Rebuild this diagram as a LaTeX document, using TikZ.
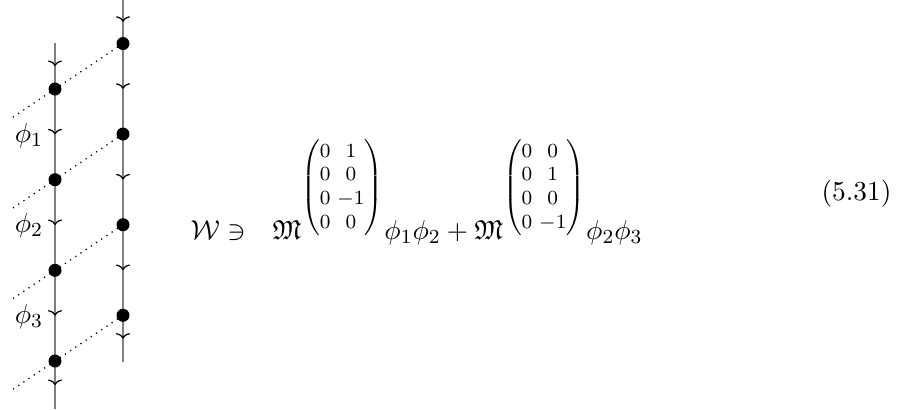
\documentclass[tikz,border=0pt]{standalone}
\usepackage{amsmath,amssymb,array}
\usetikzlibrary{decorations.markings,arrows.meta,calc}
\newcommand{\mymat}[1]{{\renewcommand{\arraystretch}{0.7}\left(\begin{array}{@{}>{\scriptstyle}c@{\hskip 2.8pt}>{\scriptstyle}c@{}}#1\end{array}\right)}}
\begin{document}
\fontsize{10.95}{13.6}\selectfont
\begin{tikzpicture}[x=0.4pt,y=-0.4pt,
  font=\fontsize{10.95}{13.6}\selectfont,
  wline/.style={draw=gray, line width=0.8pt,
    postaction={decorate},
    decoration={markings, mark=at position 0.5 with {\arrow{Computer Modern Rightarrow[width=5.6pt,length=2.2pt,line width=0.5pt,color=black]}}}},
  blob/.style={circle, fill=black, inner sep=0pt, minimum size=5.2pt},
  dotl/.style={dotted, line width=0.5pt},
  lab/.style={anchor=base, inner sep=0pt},
  txt/.style={anchor=base west, inner sep=0pt}]
\useasboundingbox (0,0) rectangle (905,409);
% end points
\coordinate (lt) at (55,43);
\coordinate (lb) at (55,409);
\coordinate (rt) at (123,0);
\coordinate (rb) at (123,362);
% dot positions
\coordinate (L1) at (55,89);
\coordinate (L2) at (55,179.7);
\coordinate (L3) at (55,270.3);
\coordinate (L4) at (55,361);
\coordinate (R1) at (123,43.5);
\coordinate (R2) at (123,134);
\coordinate (R3) at (123,224.7);
\coordinate (R4) at (123,315.3);
\foreach \i in {1,...,4}{
  \coordinate (E\i) at ($(R\i)!1.662!(L\i)$);
  \draw[dotl] (R\i) -- (E\i);
}
% world lines
\draw[wline] (lt) -- (L1);
\draw[wline] (L1) -- (L2);
\draw[wline] (L2) -- (L3);
\draw[wline] (L3) -- (L4);
\draw[wline] (L4) -- (lb);
\draw[wline] (rt) -- (R1);
\draw[wline] (R1) -- (R2);
\draw[wline] (R2) -- (R3);
\draw[wline] (R3) -- (R4);
\draw[wline] (R4) -- (rb);
% dots
\foreach \i in {1,...,4}{
  \node[blob] (l\i) at (L\i) {};
  \node[blob] (r\i) at (R\i) {};
}
% labels
\node[lab] (p1) at (29,142) {$\phi_1$};
\node[lab] (p2) at (29,232.5) {$\phi_2$};
\node[lab] (p3) at (29,323) {$\phi_3$};
% equation
\node[txt] (eqa) at (190,239) {$\mathcal{W} \ni$};
\node[txt] (eqb) at (272,239)
  {$\mathfrak{M}^{\mymat{0 & 1\\ 0 & 0\\ 0 & -1\\ 0 & 0}}\phi_1\phi_2 + \mathfrak{M}^{\mymat{0 & 0\\ 0 & 1\\ 0 & 0\\ 0 & -1}}\phi_2\phi_3$};
\node[txt] (tag) at (821,200) {(5.31)};
\end{tikzpicture}
\end{document}
